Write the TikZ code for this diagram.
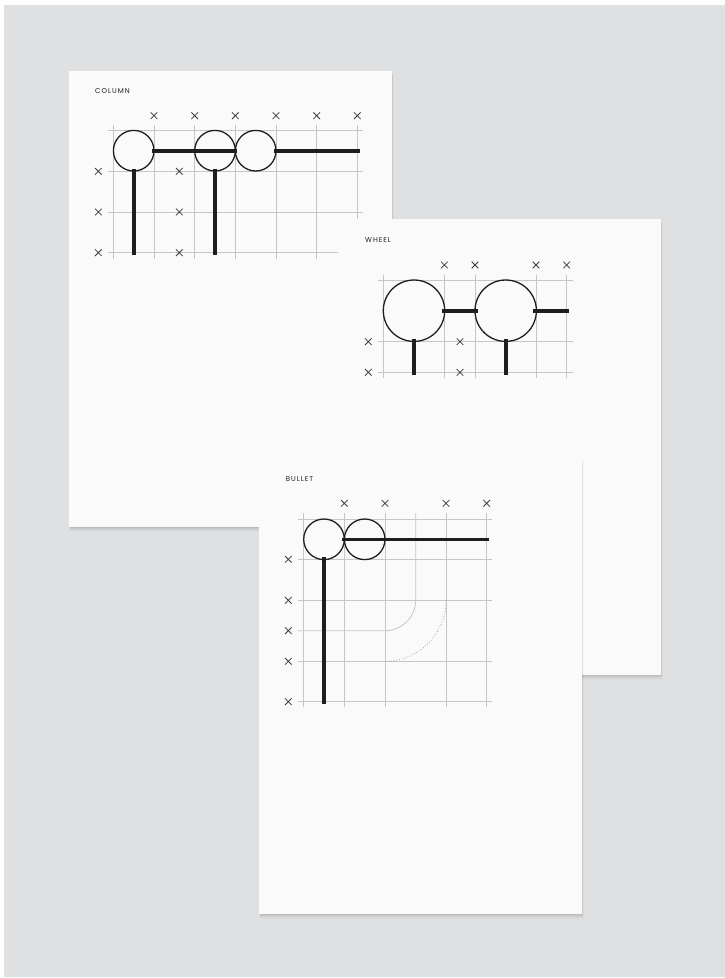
\documentclass[tikz,border=0pt]{standalone}
\usepackage{fontspec}
\newfontfamily\labfont[LetterSpace=14]{Poppins}
\definecolor{bgc}{HTML}{DFE0E2}
\definecolor{paper}{HTML}{FAFAFA}
\definecolor{gridc}{HTML}{C6C6C6}
\definecolor{ink}{HTML}{1E1E1E}
\definecolor{xc}{HTML}{3A3A3A}
\tikzset{
  gridline/.style={draw=gridc, line width=0.8pt},
  bar/.style={draw=ink, line width=3.6pt},
  ring/.style={draw=ink, line width=1.3pt},
  lab/.style={anchor=west, inner sep=0pt, text=ink, font=\labfont\fontsize{7}{8}\selectfont},
  xm/.pic={\draw[xc, line width=0.75pt] (-3.3,-3.3) -- (3.3,3.3) (-3.3,3.3) -- (3.3,-3.3);},
}
\newcommand\sheet[4]{%
  \foreach \o/\a in {5/0.015,4/0.02,3/0.03,2/0.04,1/0.05}
    \fill[black,opacity=\a] (#1+0.5,#2+\o) rectangle (#3+\o*0.3,#4+\o);
  \fill[paper] (#1,#2) rectangle (#3,#4);}
\begin{document}
\begin{tikzpicture}[x=1pt,y=-1pt]
\useasboundingbox (0,0) rectangle (725,978);
\fill[white] (0,0) rectangle (725,978);
\fill[bgc] (4,5) rectangle (725,977);

% ---------- COLUMN sheet ----------
\sheet{69}{71}{392}{527}
\node[lab] (tcol) at (95,90.7) {COLUMN};
\foreach \x in {113.3,154,194.7,235.3,276,316.7,357.3}
  \draw[gridline] (\x,125) -- (\x,259);
\foreach \y in {130.7,171.3,212,252.7}
  \draw[gridline] (107.7,\y) -- (363.3,\y);
\foreach \x in {154,194.7,235.3,276,316.7,357.3}
  \pic at (\x,115.7) {xm};
\foreach \y in {171.3,212,252.7}
  {\pic at (98.3,\y) {xm}; \pic at (179.3,\y) {xm};}
\draw[bar] (152,150.7) -- (236.7,150.7);
\draw[bar] (274,150.7) -- (360,150.7);
\draw[bar] (133.7,169.3) -- (133.7,255);
\draw[bar] (215,169.3) -- (215,255);
\foreach \cx in {133.7,215,255.7}
  \draw[ring] (\cx,150.7) circle[radius=20.3];

% ---------- WHEEL sheet ----------
\sheet{338.3}{219.3}{661}{675}
\node[lab] (twh) at (365,240) {WHEEL};
\foreach \x in {383.3,444.3,475,536,566.7}
  \draw[gridline] (\x,275) -- (\x,377.7);
\foreach \y in {280,341.7,372.3}
  \draw[gridline] (377.7,\y) -- (572.7,\y);
\foreach \x in {444.3,475,536,566.7}
  \pic at (\x,265) {xm};
\foreach \y in {341.7,372.3}
  {\pic at (368.3,\y) {xm}; \pic at (460,\y) {xm};}
\draw[bar] (441.7,310.7) -- (478.3,310.7);
\draw[bar] (533,310.7) -- (569.3,310.7);
\draw[bar] (414,339.3) -- (414,375);
\draw[bar] (505.7,339.3) -- (505.7,375);
\foreach \cx in {414,505.7}
  \draw[ring] (\cx,310.7) circle[radius=30.7];

% ---------- BULLET sheet ----------
\sheet{259}{458.3}{582}{913.5}
\node[lab] (tbu) at (285.7,479) {BULLET};
\foreach \x in {303.3,344.3,385,446,486.7}
  \draw[gridline] (\x,513.3) -- (\x,707.3);
\foreach \y in {519,559.3,600.3,661.3,701.7}
  \draw[gridline] (297.7,\y) -- (492.3,\y);
\draw[gridline] (415.7,513.3) -- (415.7,600.3)
  .. controls (415.7,617.1) and (401.8,630.7) .. (385,630.7) -- (297.7,630.7);
\draw[gridc!70!black, line width=0.7pt, dotted] (446,600.3)
  .. controls (446,634) and (418.7,661.3) .. (385,661.3);
\foreach \x in {344.3,385,446,486.7}
  \pic at (\x,503.3) {xm};
\foreach \y in {559.3,600.3,630.7,661.3,701.7}
  \pic at (288.3,\y) {xm};
\draw[bar] (342.3,539.3) -- (489,539.3);
\draw[bar] (324,557.3) -- (324,704);
\foreach \cx in {324,364.7}
  \draw[ring] (\cx,539.3) circle[radius=20.3];
\end{tikzpicture}
\end{document}
